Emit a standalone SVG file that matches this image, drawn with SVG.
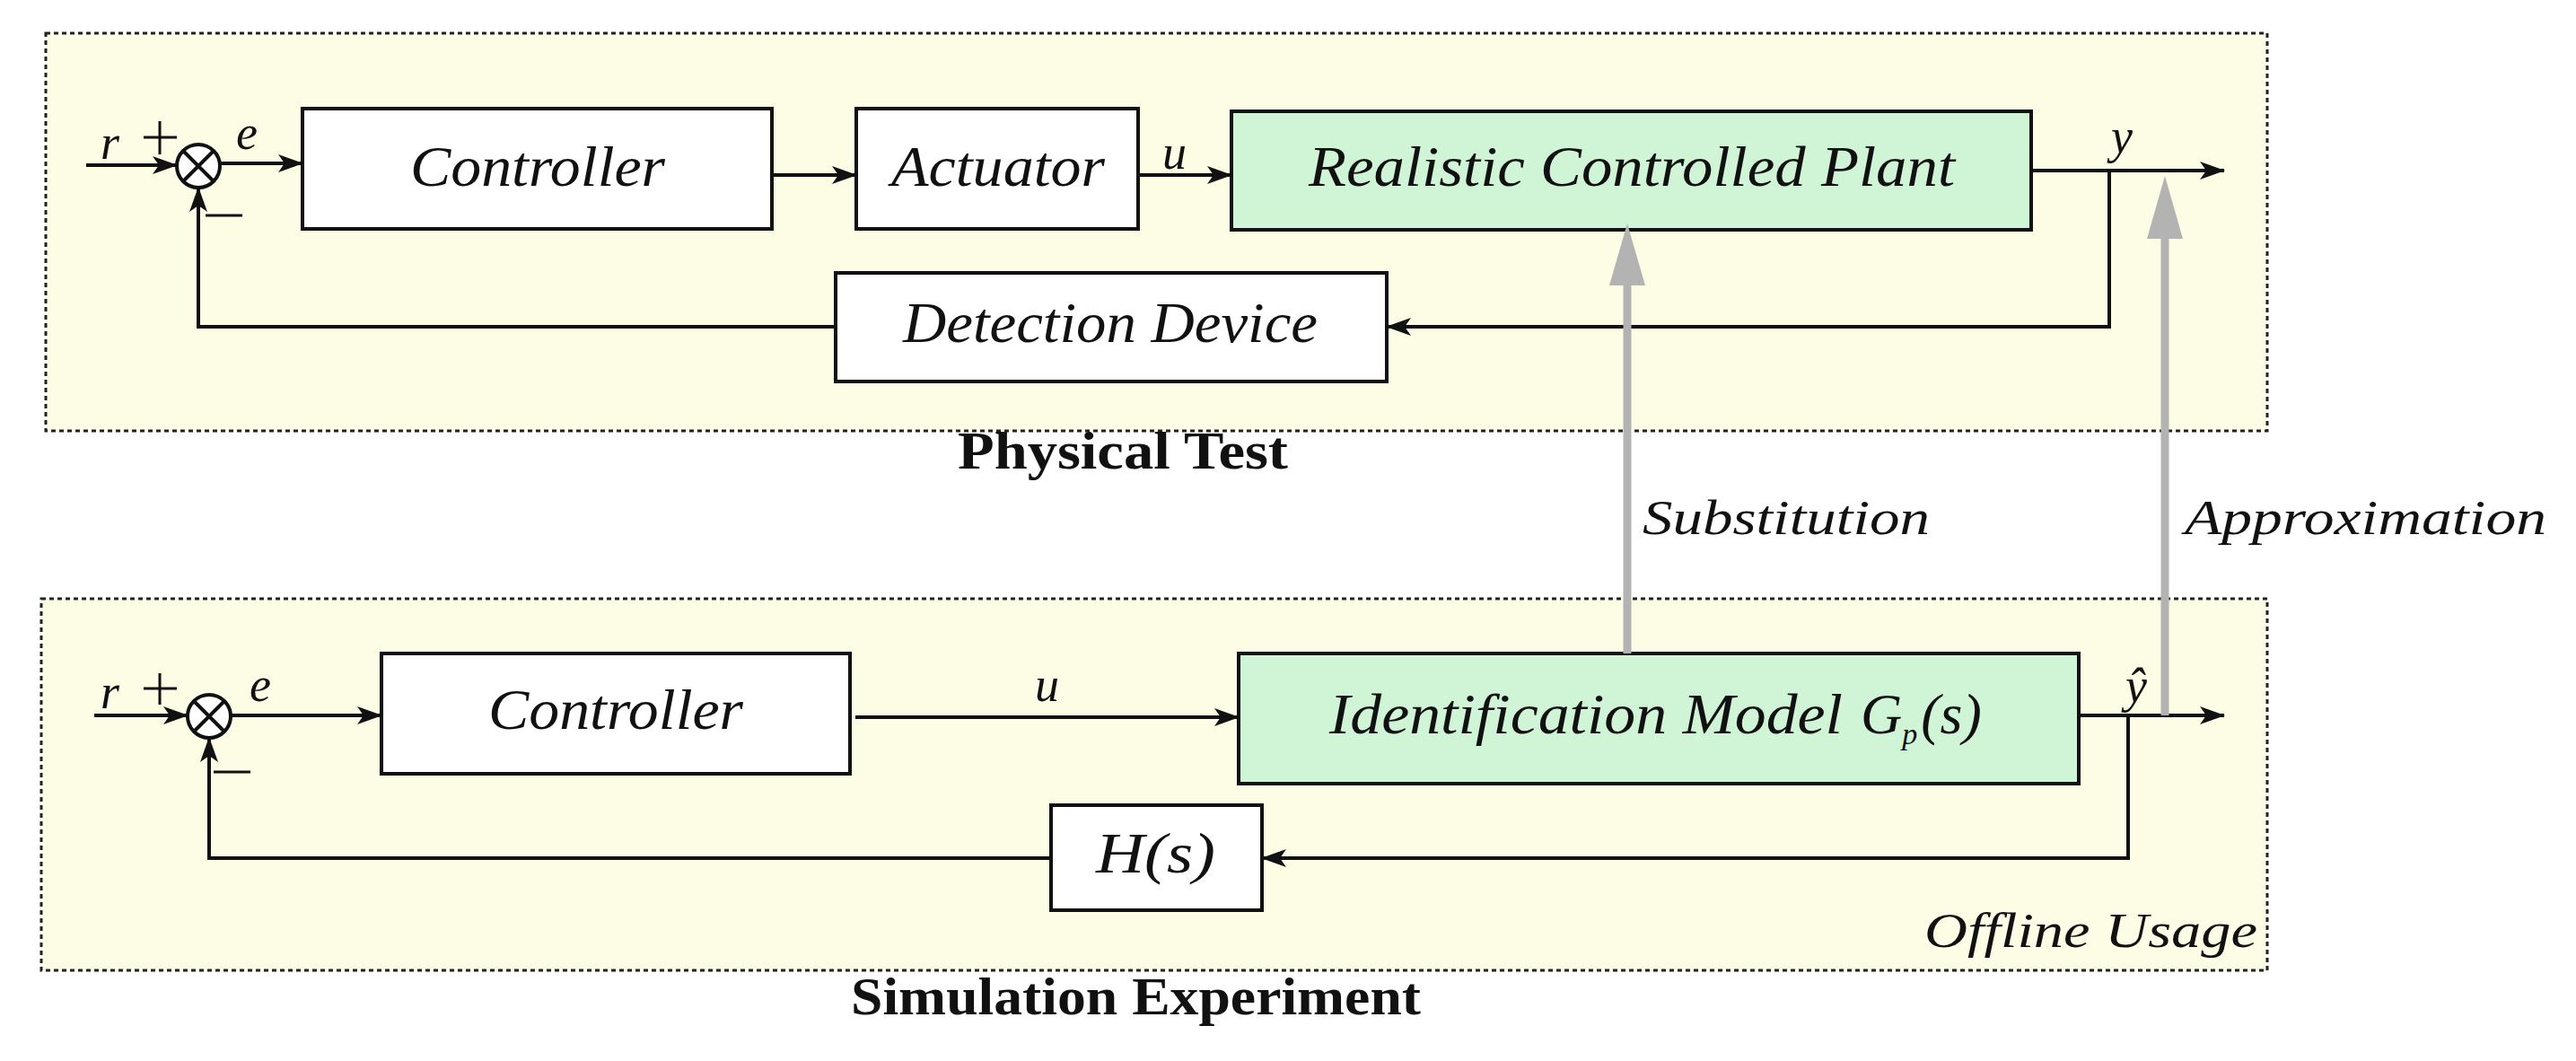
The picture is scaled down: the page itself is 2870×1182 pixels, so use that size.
<svg xmlns="http://www.w3.org/2000/svg" width="2870" height="1182" viewBox="0 0 2870 1182">
<style>
.panel{fill:#fdfde6;stroke:#222;stroke-width:3;stroke-dasharray:5,4}
.box{fill:#fff;stroke:#111;stroke-width:4}
.green{fill:#d0f4d6;stroke:#111;stroke-width:4}
.t{font-family:"Liberation Serif",serif;font-style:italic;font-size:64px;fill:#111}
.lbl{font-family:"Liberation Serif",serif;font-style:italic;font-size:54px;fill:#111}
.b{font-family:"Liberation Serif",serif;font-weight:bold;font-size:60px;fill:#111}
.w{fill:none;stroke:#111;stroke-width:4}
.g{fill:none;stroke:#b3b3b3;stroke-width:9}
</style>
<defs>
<marker id="ab" markerWidth="28" markerHeight="20" refX="27" refY="10" orient="auto" markerUnits="userSpaceOnUse"><path d="M0,0 L28,10 L0,20 L7,10 Z" fill="#111"/></marker>
</defs>
<rect class="panel" x="51" y="37" width="2475" height="443"/>
<rect class="panel" x="46" y="667" width="2480" height="414"/>
<g id="sum1"><circle cx="221" cy="185" r="24" fill="#fff" stroke="#111" stroke-width="4"/><path d="M204,168 L238,202 M238,168 L204,202" stroke="#111" stroke-width="4"/></g>
<g id="ctrl1"><rect class="box" x="337" y="121" width="523" height="134"/><text class="t" x="457" y="207" textLength="284" lengthAdjust="spacingAndGlyphs">Controller</text></g>
<g id="act"><rect class="box" x="954" y="121" width="314" height="134"/><text class="t" x="993" y="207" textLength="238" lengthAdjust="spacingAndGlyphs">Actuator</text></g>
<g id="plant"><rect class="green" x="1372" y="124" width="891" height="132"/><text class="t" x="1458" y="207" textLength="720" lengthAdjust="spacingAndGlyphs">Realistic Controlled Plant</text></g>
<g id="det"><rect class="box" x="931" y="304" width="614" height="121"/><text class="t" x="1006" y="381" textLength="462" lengthAdjust="spacingAndGlyphs">Detection Device</text></g>
<g id="sum2"><circle cx="233" cy="798" r="24" fill="#fff" stroke="#111" stroke-width="4"/><path d="M216,781 L250,815 M250,781 L216,815" stroke="#111" stroke-width="4"/></g>
<g id="ctrl2"><rect class="box" x="425" y="728" width="522" height="134"/><text class="t" x="544" y="812" textLength="284" lengthAdjust="spacingAndGlyphs">Controller</text></g>
<g id="ident"><rect class="green" x="1380" y="728" width="936" height="145"/><text class="t" x="1481" y="817"><tspan textLength="572" lengthAdjust="spacingAndGlyphs">Identification Model</tspan><tspan dx="20">G</tspan><tspan font-size="34" dy="12">p</tspan><tspan dy="-12" dx="4">(s)</tspan></text></g>
<g id="hs"><rect class="box" x="1171" y="897" width="235" height="117"/><text class="t" x="1221" y="972" textLength="133" lengthAdjust="spacingAndGlyphs">H(s)</text></g>
<g id="connectors">
<path class="w" d="M96,184 L197,184" marker-end="url(#ab)"/>
<path class="w" d="M245,182 L337,182" marker-end="url(#ab)"/>
<path class="w" d="M860,195 L954,195" marker-end="url(#ab)"/>
<path class="w" d="M1268,195 L1372,195" marker-end="url(#ab)"/>
<path class="w" d="M2263,190 L2478,190" marker-end="url(#ab)"/>
<path class="w" d="M2350,190 L2350,364 L1545,364" marker-end="url(#ab)"/>
<path class="w" d="M931,364 L221,364 L221,209" marker-end="url(#ab)"/>
<path class="w" d="M105,797 L209,797" marker-end="url(#ab)"/>
<path class="w" d="M257,797 L425,797" marker-end="url(#ab)"/>
<path class="w" d="M953,799 L1380,799" marker-end="url(#ab)"/>
<path class="w" d="M2316,797 L2478,797" marker-end="url(#ab)"/>
<path class="w" d="M2371,797 L2371,956 L1406,956" marker-end="url(#ab)"/>
<path class="w" d="M1171,956 L233,956 L233,822" marker-end="url(#ab)"/>
<path class="g" d="M1813,728 L1813,310"/>
<path d="M1793,318 L1833,318 L1813,249 Z" fill="#b3b3b3"/>
<path class="g" d="M2412,797 L2412,260"/>
<path d="M2392,266 L2432,266 L2412,196 Z" fill="#b3b3b3"/>
</g>
<g id="labels">
<text class="lbl" x="112" y="177">r</text>
<path d="M160,153 L197,153 M178,135 L178,172" stroke="#111" stroke-width="3"/>
<text class="lbl" x="263" y="166">e</text>
<path d="M229,240 L270,240" stroke="#111" stroke-width="3"/>
<text class="lbl" x="1295" y="188">u</text>
<text class="lbl" x="2352" y="170">y</text>
<text class="lbl" x="112" y="789">r</text>
<path d="M160,767 L197,767 M178,750 L178,785" stroke="#111" stroke-width="3"/>
<text class="lbl" x="278" y="781">e</text>
<path d="M238,860 L279,860" stroke="#111" stroke-width="3"/>
<text class="lbl" x="1153" y="781">u</text>
<text class="lbl" x="2368" y="782">ŷ</text>
<text class="lbl" x="1830" y="595" textLength="320" lengthAdjust="spacingAndGlyphs">Substitution</text>
<text class="lbl" x="2434" y="595" textLength="403" lengthAdjust="spacingAndGlyphs">Approximation</text>
<text class="lbl" x="2144" y="1055" textLength="371" lengthAdjust="spacingAndGlyphs">Offline Usage</text>
<text class="b" x="1067" y="522" textLength="368" lengthAdjust="spacingAndGlyphs">Physical Test</text>
<text class="b" x="948" y="1130" textLength="635" lengthAdjust="spacingAndGlyphs">Simulation Experiment</text>
</g>
</svg>
